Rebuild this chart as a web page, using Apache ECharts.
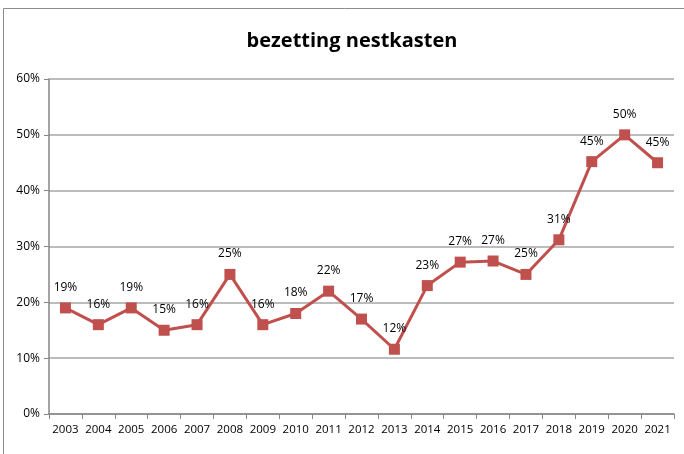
<!DOCTYPE html>
<html>
<head>
<meta charset="utf-8">
<script src="https://cdn.jsdelivr.net/npm/echarts@6/dist/echarts.min.js"></script>
<style>
  html, body { margin: 0; padding: 0; background: #fff; }
  #main { width: 684px; height: 454px; }
</style>
</head>
<body>
<div id="main"></div>
<script>
var years = ['2003', '2004', '2005', '2006', '2007', '2008', '2009', '2010', '2011', '2012',
    '2013', '2014', '2015', '2016', '2017', '2018', '2019', '2020', '2021'];
// bezetting in procenten
var bezetting = [19, 16, 19, 15, 16, 25, 16, 18, 22, 17, 11.6, 23, 27.2, 27.4, 25, 31.2, 45.2, 50, 45];
var yTicks = [0, 10, 20, 30, 40, 50, 60];

var chartDom = document.getElementById('main');
var myChart = echarts.init(chartDom);
var option;

var font = '"Open Sans", "Liberation Sans", sans-serif';

option = {
    animation: false,
    textStyle: { fontFamily: font },
    title: {
        text: 'bezetting nestkasten',
        left: 347,
        textAlign: 'center',
        top: 26,
        textStyle: { fontSize: 20, fontWeight: 'bold', color: '#000', fontFamily: font }
    },
    graphic: [{
        type: 'rect',
        shape: { x: 3.5, y: 8.5, width: 760, height: 520 },
        style: { fill: 'none', stroke: '#8c8c8c', lineWidth: 1 },
        silent: true
    }],
    grid: { left: 49, right: 10, top: 79, bottom: 40 },
    xAxis: {
        type: 'category',
        data: years,
        boundaryGap: true,
        axisLine: { lineStyle: { color: '#868686', width: 1.5 } },
        axisTick: { show: true, length: 5, lineStyle: { color: '#868686' } },
        axisLabel: { color: '#000', fontSize: 11.5, margin: 10, interval: 0, hideOverlap: false }
    },
    yAxis: {
        type: 'value',
        min: yTicks[0],
        max: yTicks[yTicks.length - 1],
        interval: 10,
        axisLine: { show: true, lineStyle: { color: '#868686', width: 1.5 } },
        axisTick: { show: true, length: 5, lineStyle: { color: '#868686' } },
        axisLabel: { color: '#000', fontSize: 12, margin: 9, formatter: '{value}%' },
        splitLine: { lineStyle: { color: '#a6a6a6', width: 1.5 } }
    },
    series: [{
        type: 'line',
        data: bezetting,
        symbol: 'rect',
        symbolSize: 11,
        lineStyle: { color: '#c0504d', width: 3 },
        itemStyle: { color: '#c0504d' },
        label: {
            show: true,
            position: 'top',
            distance: 9,
            color: '#000',
            fontSize: 12,
            formatter: function (p) { return Math.round(p.value) + '%'; }
        }
    }]
};

option && myChart.setOption(option);
</script>
</body>
</html>
